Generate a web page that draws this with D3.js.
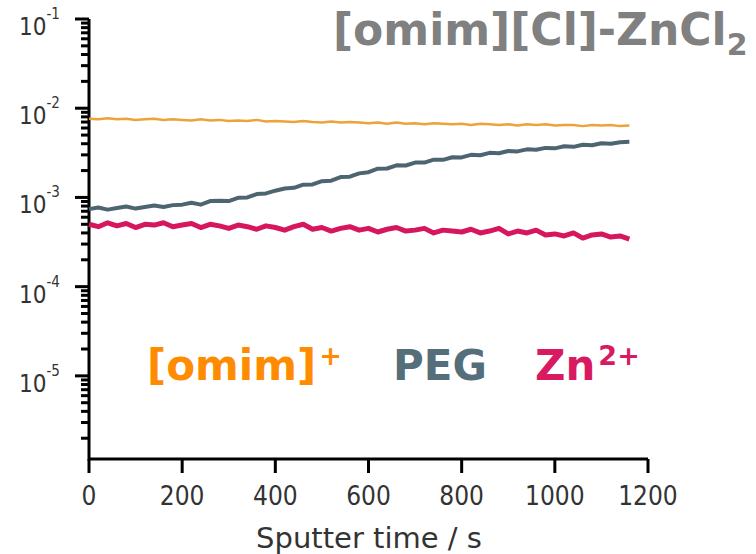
<!DOCTYPE html>
<html>
<head>
<meta charset="utf-8">
<script src="https://cdn.jsdelivr.net/npm/d3@7"></script>
<style>
  body { margin: 0; background: #fff; }
  svg { display: block; }
</style>
</head>
<body>
<script>
// sputter time, s (one reading every 20 s)
const times = [0, 20, 40, 60, 80, 100, 120, 140, 160, 180,
  200, 220, 240, 260, 280, 300, 320, 340, 360, 380,
  400, 420, 440, 460, 480, 500, 520, 540, 560, 580,
  600, 620, 640, 660, 680, 700, 720, 740, 760, 780,
  800, 820, 840, 860, 880, 900, 920, 940, 960, 980,
  1000, 1020, 1040, 1060, 1080, 1100, 1120, 1140, 1160];

// [omim]+ intensity (x 1e-3)
const omim = [7.6, 7.5, 7.7, 7.5, 7.6, 7.4, 7.5, 7.6, 7.4, 7.5,
  7.4, 7.3, 7.5, 7.3, 7.4, 7.2, 7.3, 7.2, 7.4, 7.1,
  7.2, 7.1, 7.0, 7.2, 7.0, 6.9, 7.1, 6.9, 7.0, 6.9,
  6.8, 6.9, 6.7, 6.9, 6.7, 6.8, 6.6, 6.8, 6.7, 6.6,
  6.7, 6.5, 6.7, 6.6, 6.5, 6.6, 6.4, 6.6, 6.5, 6.6,
  6.4, 6.5, 6.5, 6.3, 6.5, 6.4, 6.5, 6.3, 6.4];

// PEG intensity (x 1e-4)
const peg = [7.4, 7.7, 7.3, 7.6, 7.9, 7.5, 7.8, 8.1, 7.8, 8.2,
  8.3, 8.7, 8.3, 9.1, 9.2, 9.1, 9.9, 10.0, 10.9, 11.1,
  11.9, 12.6, 12.8, 13.9, 14.0, 15.2, 15.4, 16.9, 17.1, 18.6,
  19.2, 21.0, 21.1, 22.9, 22.8, 24.6, 24.6, 26.5, 26.4, 28.2,
  28.1, 30.0, 29.7, 31.6, 31.3, 33.1, 32.8, 34.6, 34.2, 35.9,
  35.5, 37.4, 36.9, 38.9, 38.5, 40.4, 39.9, 41.6, 42.0];

// Zn2+ intensity (x 1e-4)
const zn = [5.0, 4.7, 5.2, 4.8, 5.1, 4.6, 5.0, 4.9, 5.2, 4.7,
  4.9, 5.1, 4.6, 5.0, 4.8, 4.5, 4.9, 4.7, 4.4, 4.8,
  4.6, 4.3, 4.7, 5.0, 4.4, 4.6, 4.2, 4.5, 4.7, 4.3,
  4.5, 4.1, 4.4, 4.6, 4.2, 4.3, 4.5, 4.0, 4.3, 4.2,
  4.1, 4.4, 4.0, 4.2, 4.5, 3.9, 4.2, 4.0, 4.3, 3.8,
  3.9, 3.7, 4.0, 3.5, 3.8, 3.9, 3.6, 3.7, 3.4];

const xTicks = [0, 200, 400, 600, 800, 1000, 1200];
const yDecades = [-1, -2, -3, -4, -5];
const yBottom = 1.17e-6;

const svg = d3.select('body').append('svg')
    .attr('width', 756)
    .attr('height', 554);

const xs = d3.scaleLinear().domain([0, 1200]).range([89, 648]);
const ys = d3.scaleLog().domain([yBottom, 1e-1]).range([459, 19]);

// minor ticks 2..9 x each decade
const minors = [];
[-6, -5, -4, -3, -2].forEach(e => {
  for (let m = 2; m <= 9; m++) {
    const v = m * Math.pow(10, e);
    if (v > yBottom) minors.push(v);
  }
});
const majors = yDecades.map(e => Math.pow(10, e));

// tick bars (minor 8 px, major 14 px)
svg.selectAll('rect.ytick')
    .data(minors.map(v => [v, 8]).concat(majors.map(v => [v, 14])))
    .enter()
  .append('rect')
    .attr('class', 'ytick')
    .attr('x', d => xs(0) - d[1])
    .attr('y', d => ys(d[0]) - 1.5)
    .attr('width', d => d[1])
    .attr('height', 3)
    .attr('fill', '#000');

svg.selectAll('rect.xtick')
    .data(xTicks)
    .enter()
  .append('rect')
    .attr('class', 'xtick')
    .attr('x', d => xs(d) - 1.5)
    .attr('y', ys(yBottom))
    .attr('width', 3)
    .attr('height', 14)
    .attr('fill', '#000');

// spines
svg.append('path')
    .attr('fill', 'none')
    .attr('stroke', '#000')
    .attr('stroke-width', 3)
    .attr('d', 'M' + xs(0) + ',' + ys(1e-1) + 'V' + ys(yBottom) + 'H' + xs(1200));

// y tick labels 10^n
yDecades.forEach(e => {
  const t = svg.append('text')
      .attr('x', 19)
      .attr('y', ys(Math.pow(10, e)) + 16)
      .attr('font-family', 'DejaVu Sans Condensed, DejaVu Sans')
      .attr('font-size', 24)
      .attr('fill', '#333');
  t.append('tspan').text('10');
  t.append('tspan')
      .attr('dy', -16)
      .attr('font-size', 15)
      .text('-' + (-e));
});

// x tick labels
svg.selectAll('text.xlab')
    .data(xTicks)
    .enter()
  .append('text')
    .attr('class', 'xlab')
    .attr('x', d => xs(d))
    .attr('y', 505)
    .attr('text-anchor', 'middle')
    .attr('font-family', 'DejaVu Sans Condensed, DejaVu Sans')
    .attr('font-size', 26)
    .attr('fill', '#333')
    .text(d => d);

svg.append('text')
    .attr('x', 369)
    .attr('y', 548)
    .attr('text-anchor', 'middle')
    .attr('font-family', 'DejaVu Sans')
    .attr('font-size', 29)
    .attr('fill', '#333')
    .text('Sputter time / s');

// traces
const series = [
  { vals: zn, scale: 1e-4, color: '#d6175d', w: 5 },
  { vals: peg, scale: 1e-4, color: '#4d6570', w: 4 },
  { vals: omim, scale: 1e-3, color: '#eda33a', w: 2.5 }
];

const traceLine = d3.line()
    .x(d => xs(d[0]))
    .y(d => ys(d[1]));

svg.selectAll('path.trace')
    .data(series)
    .enter()
  .append('path')
    .attr('class', 'trace')
    .attr('fill', 'none')
    .attr('stroke', d => d.color)
    .attr('stroke-width', d => d.w)
    .attr('stroke-linejoin', 'round')
    .attr('d', d => traceLine(times.map((t, i) => [t, d.vals[i] * d.scale])));

// title
const title = svg.append('text')
    .attr('x', 333)
    .attr('y', 45)
    .attr('font-family', 'DejaVu Sans')
    .attr('font-weight', 'bold')
    .attr('font-size', 44)
    .attr('fill', '#808080');
title.append('tspan').text('[omim][Cl]-ZnCl');
title.append('tspan').attr('dy', 10).attr('font-size', 30).text('2');

// species labels
const speciesLabels = [
  { main: '[omim]', sup: '+', x: 147, color: '#ff8c00' },
  { main: 'PEG', sup: '', x: 393, color: '#546e7a' },
  { main: 'Zn', sup: '2+', x: 535, color: '#d81b60' }
];

speciesLabels.forEach(l => {
  const t = svg.append('text')
      .attr('x', l.x)
      .attr('y', 380)
      .attr('font-family', 'DejaVu Sans')
      .attr('font-weight', 'bold')
      .attr('font-size', 42)
      .attr('fill', l.color);
  t.append('tspan').text(l.main);
  if (l.sup) {
    t.append('tspan')
        .attr('dx', 3)
        .attr('dy', -15)
        .attr('font-size', 27)
        .text(l.sup);
  }
});
</script>
</body>
</html>
